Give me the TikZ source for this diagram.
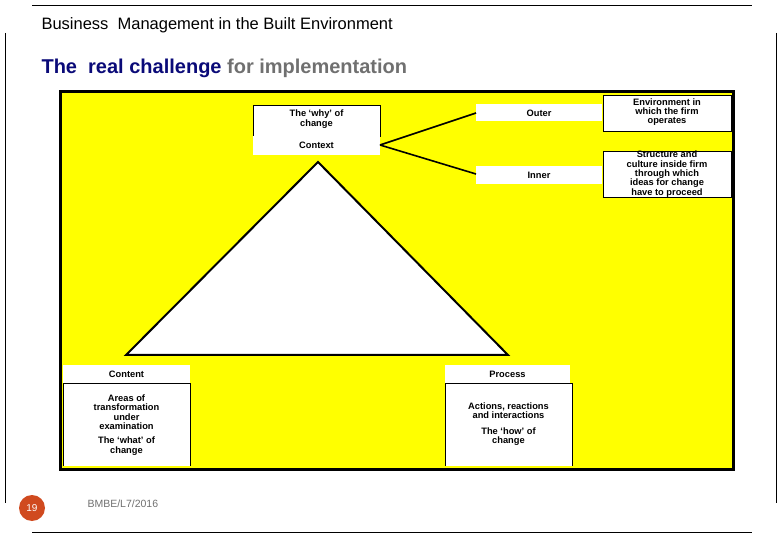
\documentclass[tikz,border=0pt]{standalone}
\usepackage{fontspec}
\setmainfont{Liberation Sans}
\definecolor{navyT}{HTML}{0A0A78}
\definecolor{grayT}{HTML}{707070}
\definecolor{badge}{HTML}{D04A1F}
\definecolor{ylw}{HTML}{FFFF00}
\begin{document}
\begin{tikzpicture}[x=1pt,y=-1pt,
  lbl/.style={font=\bfseries\fontsize{9.3}{9.4}\selectfont, align=center, inner sep=0pt},
  wbox/.style={fill=white, draw=black, line width=0.8pt},
  conn/.style={line width=1.6pt}]
\useasboundingbox (0,0) rectangle (780,540);
\draw[line width=0.8pt] (32,5) -- (752,5);
\draw[line width=0.8pt] (32,532) -- (752,532);
\draw[line width=0.6pt] (5,33) -- (5,503);
\draw[line width=0.6pt] (776,33) -- (776,503);
\node[anchor=west, font=\fontsize{16.5}{18}\selectfont] (t1) at (38,25) {Business\ \ Management in the Built Environment};
\node[anchor=west, font=\bfseries\fontsize{20}{22}\selectfont] (t2) at (38,68) {\textcolor{navyT}{The\ \ real challenge} \textcolor{grayT}{for implementation}};
% yellow panel
\draw[fill=ylw, line width=3pt] (60,92) rectangle (733,469);
% context
\draw[wbox] (253,105) rectangle (380,136);
\fill[white] (253,136) rectangle (380,155);
\node[lbl] (why) at (316.5,119) {The `why' of\\change};
\node[lbl] (context) at (316.5,145) {Context};
\coordinate (cr) at (380,145);
\fill[white] (476,104) rectangle (602,121);
\fill[white] (476,166) rectangle (602,184);
\node[lbl] (outer) at (539,113) {Outer};
\node[lbl] (inner) at (539,175) {Inner};
\coordinate (ol) at (476,113);
\coordinate (il) at (476,174);
\draw[conn] (cr) -- (ol);
\draw[conn] (cr) -- (il);
\draw[wbox] (603,95) rectangle (731,131);
\node[lbl] (env) at (667,112) {Environment in\\which the firm\\operates};
\draw[wbox] (603,151) rectangle (731,197);
\node[lbl] (struct) at (667,174) {Structure and\\culture inside firm\\through which\\ideas for change\\have to proceed};
% triangle
\draw[fill=white, line width=2pt, line join=miter] (318,162) -- (508,355) -- (126,355) -- cycle;
% content
\fill[white] (63,365) rectangle (190,383);
\node[lbl] (content) at (126.5,374) {Content};
\draw[fill=white, line width=0.8pt] (63,466) -- (63,383) -- (190,383) -- (190,466);
\node[lbl] (cdesc) at (126.5,425) {Areas of\\transformation\\under\\examination\\[5pt]The `what' of\\change};
% process
\fill[white] (445,365) rectangle (570,383);
\node[lbl] (process) at (507.5,374) {Process};
\draw[fill=white, line width=0.8pt] (445,466) -- (445,383) -- (572,383) -- (572,466);
\node[lbl] (pdesc) at (508.5,424) {Actions, reactions\\and interactions\\[6pt]The `how' of\\change};
% footer
\node[circle, fill=badge, minimum size=26pt, inner sep=0pt, text=white, font=\fontsize{10}{12}\selectfont] (num) at (32,508) {19};
\node[anchor=west, text=grayT, font=\fontsize{10.5}{12}\selectfont] (code) at (84,504) {BMBE/L7/2016};
\end{tikzpicture}
\end{document}
